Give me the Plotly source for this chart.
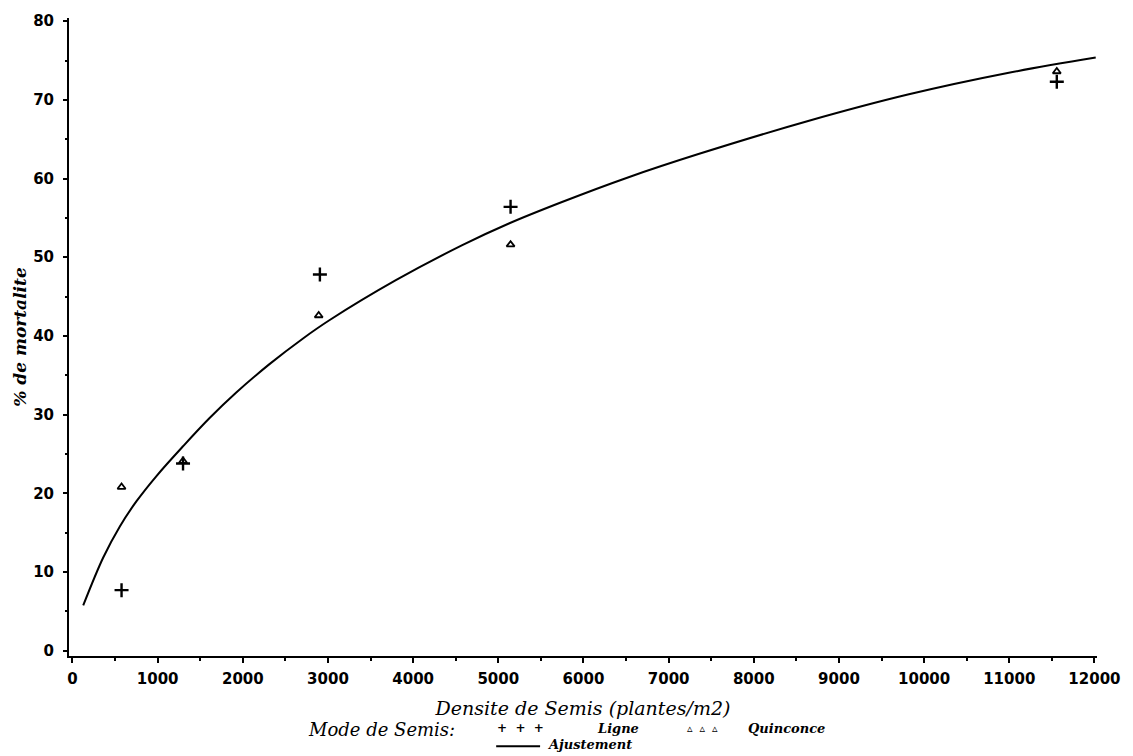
import plotly.graph_objects as go

# Observed points
ligne_x = [576, 1298, 2905, 5144, 11558]
ligne_y = [7.7, 23.8, 47.8, 56.4, 72.3]
quin_x = [576, 1298, 2891, 5144, 11558]
quin_y = [20.8, 24.1, 42.6, 51.6, 73.6]

# Fitted curve
fit_x = [126, 361, 556, 752, 986, 1298, 1610, 1923, 2313, 2703, 3016, 3797,
         4577, 5124, 5748, 6530, 7350, 8638, 9809, 10980, 12015]
fit_y = [5.76, 11.85, 15.8, 19.0, 22.2, 25.98, 29.57, 32.81, 36.42, 39.65, 41.99,
         47.08, 51.54, 54.29, 57.02, 60.17, 63.11, 67.31, 70.67, 73.41, 75.37]

x_ticks = list(range(0, 12001, 1000))
y_ticks = list(range(0, 81, 10))

tick_font = dict(family="DejaVu Sans", size=15, color="black", weight="bold")
serif = "DejaVu Serif"

fig = go.Figure()
fig.add_trace(go.Scatter(x=fit_x, y=fit_y, mode="lines", line=dict(color="black", width=2),
                         line_shape="spline", name="Ajustement", showlegend=False))
fig.add_trace(go.Scatter(x=ligne_x, y=ligne_y, mode="markers", name="Ligne", showlegend=False,
                         marker=dict(symbol="cross-thin", size=10, line=dict(color="black", width=2.4))))
fig.add_trace(go.Scatter(x=quin_x, y=quin_y, mode="markers", name="Quinconce", showlegend=False,
                         marker=dict(symbol="triangle-up-open", size=7, color="black",
                                     line=dict(color="black", width=1.8))))

L, R, T, B = 69, 1099, 13, 656
W, H = 1133, 756


def px(x):
    return (x - L) / (R - L)


def py(y):
    return (B - y) / (B - T)


fig.update_layout(
    width=W, height=H,
    margin=dict(l=L, r=W - R, t=T, b=H - B),
    plot_bgcolor="white", paper_bgcolor="white",
    xaxis=dict(
        range=[-41, 12030], tickvals=x_ticks, ticktext=[str(v) for v in x_ticks],
        showgrid=False, zeroline=False, showline=True, linecolor="black", linewidth=2,
        ticks="outside", ticklen=5, tickwidth=2, tickcolor="black", tickfont=tick_font,
        ticklabelstandoff=3,
        minor=dict(dtick=500, tick0=0, ticks="outside", ticklen=3, tickwidth=1.5, tickcolor="black"),
        title=dict(text="Densite de Semis (plantes/m2)",
                   font=dict(family=serif, size=19, color="black", style="italic"), standoff=15),
    ),
    yaxis=dict(
        range=[-0.67, 80.4], tickvals=y_ticks, ticktext=[str(v) for v in y_ticks],
        showgrid=False, zeroline=False, showline=True, linecolor="black", linewidth=2,
        ticks="outside", ticklen=4, tickwidth=2, tickcolor="black", tickfont=tick_font,
        ticklabelstandoff=6,
        minor=dict(dtick=5, tick0=0, ticks="outside", ticklen=2, tickwidth=1.5, tickcolor="black"),
        title=dict(text="% de mortalite",
                   font=dict(family=serif, size=17, color="black", style="italic", weight="bold"),
                   standoff=2),
    ),
)

leg_font = dict(family=serif, size=13, color="black", style="italic", weight="bold")
ann = [
    dict(text="Mode de Semis:", x=px(458), y=py(730), xanchor="right",
         font=dict(family=serif, size=18, color="black", style="italic")),
    dict(text="+  +  +", x=px(496), y=py(729), xanchor="left",
         font=dict(family="DejaVu Sans", size=12, color="black", weight="bold")),
    dict(text="Ligne", x=px(596), y=py(729), xanchor="left", font=leg_font),
    dict(text="\u25b5  \u25b5  \u25b5", x=px(686), y=py(729), xanchor="left",
         font=dict(family="DejaVu Sans", size=11, color="black")),
    dict(text="Quinconce", x=px(747), y=py(729), xanchor="left", font=leg_font),
    dict(text="Ajustement", x=px(546), y=py(745), xanchor="left", font=leg_font),
]
for a in ann:
    a.update(xref="paper", yref="paper", showarrow=False, yanchor="middle")
fig.update_layout(annotations=ann)
fig.add_shape(type="line", xref="paper", yref="paper", x0=px(497), x1=px(541),
              y0=py(747), y1=py(747), line=dict(color="black", width=2))

fig.write_html("out.html")
